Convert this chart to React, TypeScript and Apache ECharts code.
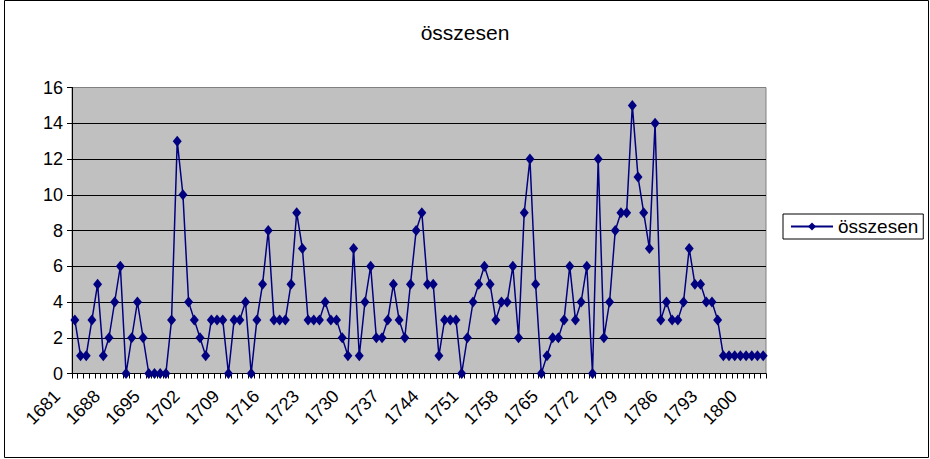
import React, { useEffect, useRef } from "react";
import * as echarts from "echarts";

const title = "összesen";
const seriesName = "összesen";
const firstYear = 1681;
const values = [
  3, 1, 1, 3, 5, 1, 2, 4, 6, 0,
  2, 4, 2, 0, 0, 0, 0, 3, 13, 10,
  4, 3, 2, 1, 3, 3, 3, 0, 3, 3,
  4, 0, 3, 5, 8, 3, 3, 3, 5, 9,
  7, 3, 3, 3, 4, 3, 3, 2, 1, 7,
  1, 4, 6, 2, 2, 3, 5, 3, 2, 5,
  8, 9, 5, 5, 1, 3, 3, 3, 0, 2,
  4, 5, 6, 5, 3, 4, 4, 6, 2, 9,
  12, 5, 0, 1, 2, 2, 3, 6, 3, 4,
  6, 0, 12, 2, 4, 8, 9, 9, 15, 11,
  9, 7, 14, 3, 4, 3, 3, 4, 7, 5,
  5, 4, 4, 3, 1, 1, 1, 1, 1, 1,
  1, 1,
];
const years = values.map((_, i) => String(firstYear + i));
const yMin = 0;
const yMax = 16;
const yStep = 2;

export default function App() {
  const ref = useRef<HTMLDivElement>(null);
  useEffect(() => {
    if (!ref.current) return;
    const chart = echarts.init(ref.current, null, { renderer: "svg" });
    const font = "Liberation Sans, Arial, sans-serif";
    chart.setOption({
      animation: false,
      backgroundColor: "#fff",
      textStyle: { fontFamily: font },
      title: {
        text: title,
        left: "center",
        top: 17,
        textStyle: { fontFamily: font, fontSize: 21, fontWeight: "normal", color: "#000" },
      },
      legend: {
        left: 783,
        top: 214,
        orient: "vertical",
        padding: [3, 5, 3, 7],
        borderColor: "#000",
        borderWidth: 1,
        itemWidth: 42,
        itemHeight: 10,
        textStyle: { fontFamily: font, fontSize: 19, color: "#000" },
        data: [seriesName],
      },
      grid: {
        left: 72,
        right: 164,
        top: 87.5,
        bottom: 85.5,
        show: true,
        backgroundColor: "#C0C0C0",
        borderColor: "#808080",
        borderWidth: 1,
      },
      xAxis: {
        type: "category",
        data: years,
        boundaryGap: true,
        axisLine: { lineStyle: { color: "#000", width: 1 } },
        axisTick: { show: true, interval: 0, length: 5, lineStyle: { color: "#000" } },
        axisLabel: {
          interval: 6,
          rotate: 45,
          margin: 2,
          padding: [0, 25, 0, 0],
          fontFamily: font,
          fontSize: 18,
          color: "#000",
        },
        splitLine: { show: false },
      },
      yAxis: {
        type: "value",
        min: yMin,
        max: yMax,
        interval: yStep,
        axisLine: { show: true, lineStyle: { color: "#000", width: 1 } },
        axisTick: { show: true, length: 5, lineStyle: { color: "#000" } },
        axisLabel: { fontFamily: font, fontSize: 18, color: "#000", margin: 9 },
        splitLine: {
          show: true,
          lineStyle: {
            color: ["#000", "#000", "#000", "#000", "#000", "#000", "#000", "#000", "#808080"],
            width: 1,
          },
        },
      },
      series: [
        {
          name: seriesName,
          type: "line",
          data: values,
          symbol: "diamond",
          symbolSize: [9, 11],
          showAllSymbol: true,
          itemStyle: { color: "#000080" },
          lineStyle: { color: "#000080", width: 1.5 },
        },
      ],
      graphic: [
        {
          type: "rect",
          shape: { x: 4.5, y: 0.5, width: 924, height: 457 },
          style: { fill: "none", stroke: "#000", lineWidth: 1 },
          silent: true,
          z: 100,
        },
      ],
    });
    return () => chart.dispose();
  }, []);
  return (
    <div
      ref={ref}
      style={{ position: "fixed", left: 0, top: 0, width: 930, height: 459 }}
    />
  );
}
